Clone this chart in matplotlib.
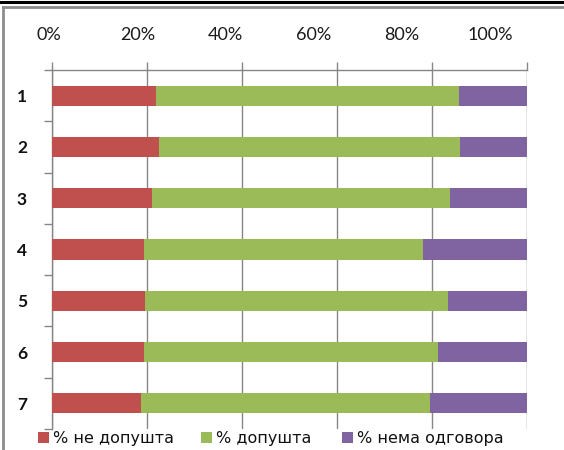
import matplotlib
matplotlib.use("Agg")
import matplotlib.pyplot as plt
from matplotlib.patches import Rectangle
from matplotlib.lines import Line2D
import matplotlib.transforms as mtransforms
import numpy as np

categories = ["1", "2", "3", "4", "5", "6", "7"]
ne_dopushta = [21.9, 22.5, 21.1, 19.4, 19.5, 19.4, 18.7]
dopushta = [63.7, 63.4, 62.6, 58.7, 63.9, 61.9, 60.9]
nema_odgovora = [14.4, 14.1, 16.3, 21.9, 16.6, 18.7, 20.4]
series_labels = ["% не допушта", "% допушта", "% нема одговора"]
colors = ["#C0504D", "#9BBB59", "#8064A2"]
xticks = [0, 20, 40, 60, 80, 100]
xtick_labels = ["0%", "20%", "40%", "60%", "80%", "100%"]

W, H = 564, 450
fig = plt.figure(figsize=(W / 100, H / 100), dpi=100)
fig.patch.set_facecolor("white")

# frame around chart
fig.add_artist(Line2D([0, 1], [1 - 1.5 / H, 1 - 1.5 / H], color="black", lw=2.2, transform=fig.transFigure))
fig.add_artist(Line2D([3 / W, 3 / W], [0, 1 - 7 / H], color="#8c8c8c", lw=2.0, transform=fig.transFigure))
fig.add_artist(Line2D([3 / W, 1], [1 - 7 / H, 1 - 7 / H], color="#8c8c8c", lw=2.0, transform=fig.transFigure))

left, right, top, bottom = 52, 527, 70, 429
ax = fig.add_axes([left / W, 1 - bottom / H, (right - left) / W, (bottom - top) / H])

y = np.arange(len(categories))
h = 0.39
series = [ne_dopushta, dopushta, nema_odgovora]
lefts = np.zeros(len(categories))
for vals, c, lab in zip(series, colors, series_labels):
    vals = np.array(vals)
    ax.barh(y, vals, left=lefts, height=h, color=c, label=lab, zorder=3, edgecolor="none")
    lefts = lefts + vals

grid_c = "#868686"
# gridlines / tick marks at the true values
ax.set_xticks(xticks)
ax.set_xticklabels([""] * len(xticks))
ax.xaxis.tick_top()
ax.tick_params(axis="x", which="major", direction="out", length=6, width=1, color=grid_c)
ax.xaxis.grid(True, which="major", color=grid_c, lw=1, zorder=0)
ax.set_xlim(0, 100)
ax.set_ylim(len(categories) - 0.5, -0.5)

# labels drawn on a slightly compressed scale, as in the reference image
trans = mtransforms.blended_transform_factory(ax.transData, fig.transFigure)
for v, lab in zip(xticks, xtick_labels):
    ax.text(-0.6 + v * 0.928, 1 - 35 / H, lab, transform=trans, ha="center", va="center",
            fontfamily="Lato", fontsize=13, color="#1a1a1a", clip_on=False)

ax.set_yticks(y)
ax.set_yticklabels(categories, fontfamily="Lato", fontsize=12.5, fontweight="bold", color="#111111")
ax.set_yticks(np.arange(-0.5, len(categories), 1), minor=True)
ax.tick_params(axis="y", which="major", length=0, pad=18)
ax.tick_params(axis="y", which="minor", direction="out", length=6, width=1, color=grid_c)

for s in ["right", "bottom"]:
    ax.spines[s].set_visible(False)
for s in ["left", "top"]:
    ax.spines[s].set_color(grid_c)
    ax.spines[s].set_linewidth(1)

# legend
leg_x = [38, 201, 342]
for lx, c, lab in zip(leg_x, colors, series_labels):
    fig.add_artist(Rectangle((lx / W, 1 - 443 / H), 11 / W, 11 / H, transform=fig.transFigure,
                             facecolor=c, edgecolor="none"))
    fig.text((lx + 15) / W, 1 - 438 / H, lab, fontfamily="DejaVu Sans", fontsize=11.5,
             va="center", ha="left", color="#111111")

fig.savefig("out.png", dpi=100)
